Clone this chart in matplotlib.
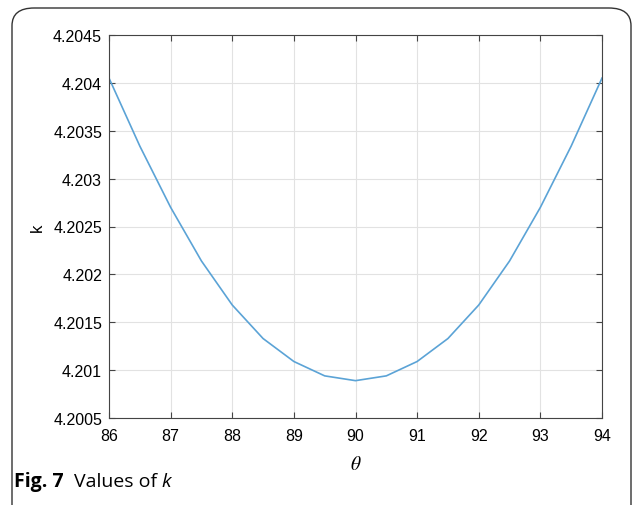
import numpy as np
import matplotlib.pyplot as plt
from matplotlib.patches import FancyBboxPatch

# values
theta = [86, 86.5, 87, 87.5, 88, 88.5, 89, 89.5, 90,
         90.5, 91, 91.5, 92, 92.5, 93, 93.5, 94]
k = [4.20405, 4.20334, 4.20270, 4.20214, 4.20168, 4.20133, 4.20109, 4.20094, 4.20089,
     4.20094, 4.20109, 4.20133, 4.20168, 4.20214, 4.20270, 4.20334, 4.20405]

xticks = [86, 87, 88, 89, 90, 91, 92, 93, 94]
yticks = [4.2005, 4.201, 4.2015, 4.202, 4.2025, 4.203, 4.2035, 4.204, 4.2045]
yticklabels = ["4.2005", "4.201", "4.2015", "4.202", "4.2025", "4.203", "4.2035", "4.204", "4.2045"]

W, H = 632, 506
fig = plt.figure(figsize=(W / 100, H / 100), dpi=100)
plt.rcParams['font.family'] = ['Liberation Sans', 'DejaVu Sans']
plt.rcParams['mathtext.fontset'] = 'stix'

# rounded frame around figure + caption
frame = FancyBboxPatch((12 / W, -30 / H), (W - 13) / W, (H - 9 + 30) / H,
                       boxstyle="round,pad=0,rounding_size=0.035",
                       transform=fig.transFigure, fill=False,
                       edgecolor='#333333', linewidth=1.0, clip_on=False)
fig.patches.append(frame)

ax = fig.add_axes([109 / W, 1 - 419 / H, (602 - 109) / W, (419 - 36) / H])
ax.plot(theta, k, color='#5ba3d6', linewidth=1.2)

ax.set_xlim(86, 94)
ax.set_ylim(4.2005, 4.2045)
ax.set_xticks(xticks)
ax.set_yticks(yticks)
ax.set_yticklabels(yticklabels)
ax.grid(True, color='#e2e2e2', linewidth=0.8)
ax.tick_params(direction='in', top=True, right=True, labelsize=11.5,
               length=4, color='#444444')
ax.tick_params(axis='x', pad=7)
ax.tick_params(axis='y', pad=5)
for s in ax.spines.values():
    s.set_color('#444444')
    s.set_linewidth(0.8)

ax.set_xlabel(r'$\theta$', fontsize=14, labelpad=9)
ax.set_ylabel('k', fontsize=12, labelpad=6)

fig.text(14 / W, 1 - 482 / H, 'Fig. 7', fontsize=14, fontweight='bold',
         family=['Open Sans', 'DejaVu Sans'], va='center')
fig.text(74 / W, 1 - 482 / H, 'Values of', fontsize=14,
         family=['Open Sans', 'DejaVu Sans'], va='center')
fig.text(161 / W, 1 - 482 / H, 'k', fontsize=14, style='italic',
         family=['Open Sans', 'DejaVu Sans'], va='center')

fig.savefig('out.png', dpi=100)
